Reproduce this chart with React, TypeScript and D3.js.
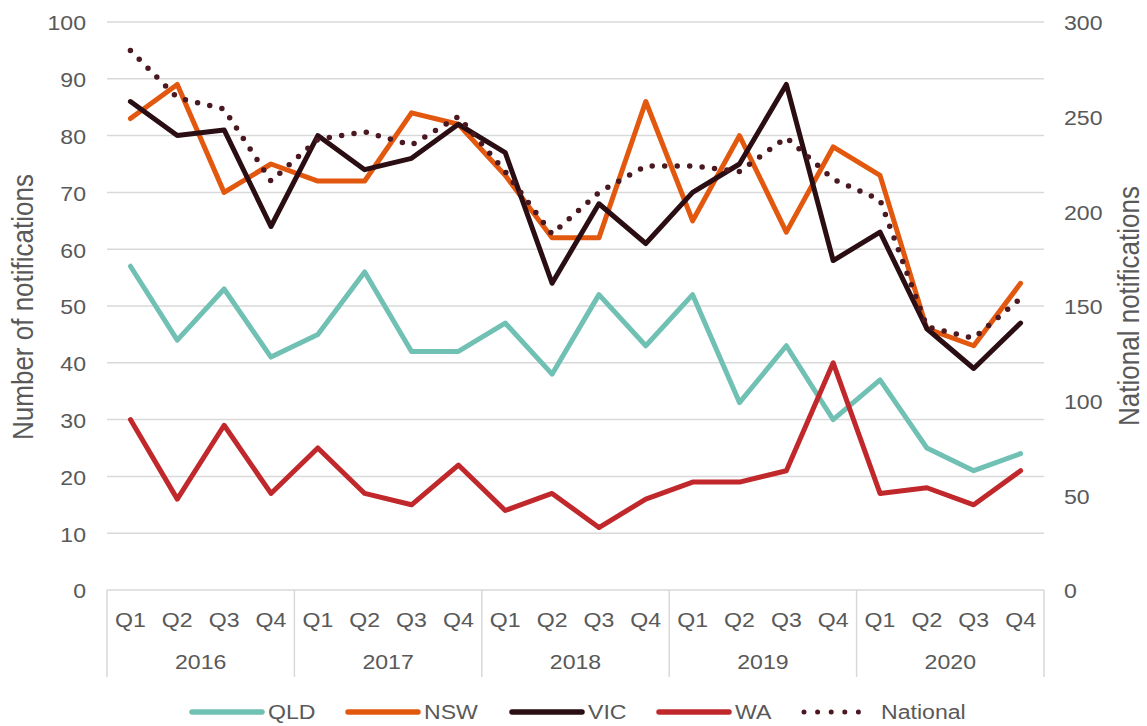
import React from "react"
import * as d3 from "d3"

const years = ["2016", "2017", "2018", "2019", "2020"]
const quarters = ["Q1", "Q2", "Q3", "Q4"]

const qld = [57, 44, 53, 41, 45, 56, 42, 42, 47, 38, 52, 43, 52, 33, 43, 30, 37, 25, 21, 24]
const nsw = [83, 89, 70, 75, 72, 72, 84, 82, 73, 62, 62, 86, 65, 80, 63, 78, 73, 46, 43, 54]
const vic = [86, 80, 81, 64, 80, 74, 76, 82, 77, 54, 68, 61, 70, 75, 89, 58, 63, 46, 39, 47]
const wa = [30, 16, 29, 17, 25, 17, 15, 22, 14, 17, 11, 16, 19, 19, 21, 40, 17, 18, 15, 21]
const national = [285, 260, 254, 216, 238, 242, 235, 250, 221, 188, 210, 224, 224, 221, 239, 217, 206, 139, 133, 154]

const leftTicks = [0, 10, 20, 30, 40, 50, 60, 70, 80, 90, 100]
const rightTicks = [0, 50, 100, 150, 200, 250, 300]

const W = 1147
const H = 726
const margin = { left: 107, right: 103, top: 22, bottom: 136 }
const textColor = "#595959"
const gridColor = "#d9d9d9"
const font = "'Liberation Sans', Arial, sans-serif"
// the reference text is a little wider than Arial, stretch it a bit
const sx = 1.1

// one text, stretched horizontally around its anchor point
const T = ({ x, y, children, size = 21, anchor = "middle", rotate = 0 }) => (
  <g transform={`translate(${x},${y}) scale(${sx},1) rotate(${rotate})`}>
    <text
      textAnchor={anchor}
      dy="0.35em"
      fontSize={size}
      fontFamily={font}
      fill={textColor}
    >
      {children}
    </text>
  </g>
)

export default function App() {
  const cats = years.flatMap(yr => quarters.map(q => yr + "-" + q))

  const x = d3
    .scaleBand()
    .domain(cats)
    .range([margin.left, W - margin.right])
  const yL = d3
    .scaleLinear()
    .domain([0, 100])
    .range([H - margin.bottom, margin.top])
  const yR = d3
    .scaleLinear()
    .domain([0, 300])
    .range([H - margin.bottom, margin.top])

  const cx = i => x(cats[i]) + x.bandwidth() / 2
  const lineL = d3.line().x((d, i) => cx(i)).y(d => yL(d))
  const lineR = d3.line().x((d, i) => cx(i)).y(d => yR(d))

  const series = [
    { name: "QLD", data: qld, color: "#70c1b3" },
    { name: "NSW", data: nsw, color: "#e2580f" },
    { name: "VIC", data: vic, color: "#2a0e13" },
    { name: "WA", data: wa, color: "#c0282b" },
  ]
  const natColor = "#4a1820"

  const bottom = yL(0)
  const yearW = x.bandwidth() * 4

  // legend layout
  const legendY = 712
  const legend = [
    { name: "QLD", x0: 192, x1: 262, color: "#70c1b3" },
    { name: "NSW", x0: 348, x1: 418, color: "#e2580f" },
    { name: "VIC", x0: 512, x1: 582, color: "#2a0e13" },
    { name: "WA", x0: 659, x1: 729, color: "#c0282b" },
  ]

  return (
    <svg
      width={W}
      height={H}
      style={{ position: "absolute", left: 0, top: 0, background: "#fff" }}
    >
      {/* gridlines */}
      {leftTicks.map(t => (
        <line
          key={t}
          x1={margin.left}
          x2={W - margin.right}
          y1={yL(t)}
          y2={yL(t)}
          stroke={gridColor}
          strokeWidth={1.5}
        />
      ))}

      {/* year separators under the axis */}
      {d3.range(years.length + 1).map(i => (
        <line
          key={i}
          x1={margin.left + i * yearW}
          x2={margin.left + i * yearW}
          y1={bottom}
          y2={677}
          stroke={gridColor}
          strokeWidth={1.5}
        />
      ))}

      {/* left ticks */}
      {leftTicks.map(t => (
        <T key={t} x={86} y={yL(t) + 1} anchor="end">
          {t}
        </T>
      ))}
      {/* right ticks */}
      {rightTicks.map(t => (
        <T key={t} x={1064} y={yR(t) + 1} anchor="start">
          {t}
        </T>
      ))}

      {/* category labels */}
      {cats.map((c, i) => (
        <T key={c} x={cx(i)} y={620}>
          {quarters[i % 4]}
        </T>
      ))}
      {years.map((yr, i) => (
        <T key={yr} x={margin.left + i * yearW + yearW / 2} y={662}>
          {yr}
        </T>
      ))}

      {/* axis titles */}
      <T x={23} y={307} size={26} rotate={-90}>
        Number of notifications
      </T>
      <T x={1129} y={306} size={26} rotate={-90}>
        National notifications
      </T>

      {/* series */}
      {series.map(s => (
        <path
          key={s.name}
          d={lineL(s.data)}
          fill="none"
          stroke={s.color}
          strokeWidth={5}
          strokeLinejoin="round"
          strokeLinecap="round"
        />
      ))}
      <path
        d={lineR(national)}
        fill="none"
        stroke={natColor}
        strokeWidth={5.5}
        strokeDasharray="0 12.5"
        strokeLinecap="round"
        strokeLinejoin="round"
      />

      {/* legend */}
      {legend.map(l => (
        <g key={l.name}>
          <line
            x1={l.x0}
            x2={l.x1}
            y1={legendY}
            y2={legendY}
            stroke={l.color}
            strokeWidth={5.5}
            strokeLinecap="round"
          />
          <T x={l.x1 + 6} y={legendY} anchor="start">
            {l.name}
          </T>
        </g>
      ))}
      <line
        x1={804}
        x2={872}
        y1={legendY}
        y2={legendY}
        stroke={natColor}
        strokeWidth={5}
        strokeDasharray="0 13.6"
        strokeLinecap="round"
      />
      <T x={881} y={legendY} anchor="start">
        National
      </T>
    </svg>
  )
}
